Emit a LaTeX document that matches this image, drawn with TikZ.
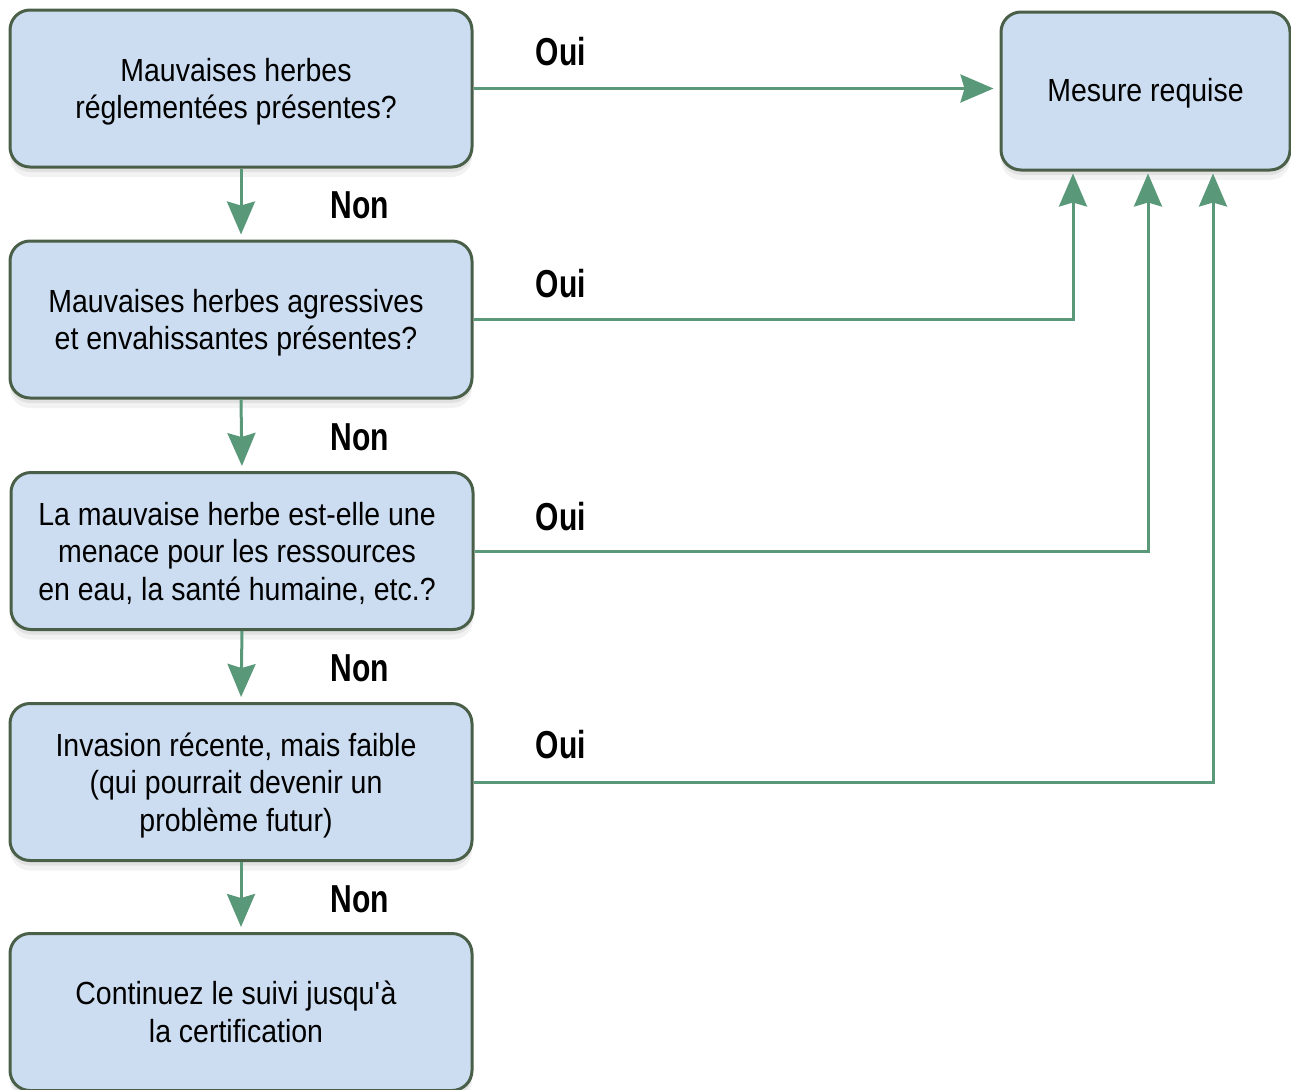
\documentclass[tikz,border=0pt]{standalone}
\usepackage{fontspec}
\setmainfont{Liberation Sans}[FakeStretch=0.89]
\newfontfamily\lblfont{Liberation Sans}[FakeStretch=0.77]
\usetikzlibrary{arrows.meta,shadows}
\definecolor{boxfill}{RGB}{204,221,241}
\definecolor{boxline}{RGB}{74,95,72}
\definecolor{arrcol}{RGB}{90,152,122}
\newcommand{\btext}[1]{\raisebox{-4pt}[\height][\depth]{\begin{tabular}{@{}c@{}}#1\end{tabular}}\hspace*{10pt}}
\tikzset{
  box/.style={draw=boxline, line width=3pt, fill=boxfill, rounded corners=20pt,
    minimum width=462pt, minimum height=157pt, align=center, inner sep=0pt,
    font=\fontsize{32}{37.5}\selectfont,
    drop shadow={shadow xshift=0pt, shadow yshift=-5pt, opacity=0.07, fill=black},
    drop shadow={shadow xshift=0pt, shadow yshift=-10pt, opacity=0.05, fill=black}},
  arr/.style={draw=arrcol, line width=3pt,
    -{Stealth[length=33pt,width=28pt,inset=4pt,fill=arrcol]}},
  lbl/.style={font=\lblfont\bfseries\fontsize{39}{44}\selectfont, inner sep=0pt}
}
\begin{document}
\begin{tikzpicture}[x=1pt,y=-1pt]
\useasboundingbox (0,0) rectangle (1291,1090);
\node[box] (b1) at (241,88.5) {\btext{Mauvaises herbes\\réglementées présentes?}};
\node[box] (b2) at (241,319.5) {\btext{Mauvaises herbes agressives\\et envahissantes présentes?}};
\node[box] (b3) at (242,551) {\btext{La mauvaise herbe est-elle une\\menace pour les ressources\\en eau, la santé humaine, etc.?}};
\node[box] (b4) at (241,782) {\btext{Invasion récente, mais faible\\(qui pourrait devenir un\\problème futur)}};
\node[box] (b5) at (241,1012) {\btext{Continuez le suivi jusqu\textquotesingle à\\la certification}};
\node[box, minimum width=289pt, minimum height=158pt] (m) at (1145.5,91) {\raisebox{-2pt}[\height][\depth]{Mesure requise}};

\draw[arr, shorten >=5pt] (b1.south) -- (b2.north);
\draw[arr, shorten >=5pt] (b2.south) -- (b3.north);
\draw[arr, shorten >=5pt] (b3.south) -- (b4.north);
\draw[arr, shorten >=5pt] (b4.south) -- (b5.north);

\draw[arr, shorten >=6pt] (b1.east) -- (b1.east -| m.west);
\draw[arr, shorten >=2pt] (b2.east) -| ([xshift=-72.5pt]m.south);
\draw[arr, shorten >=2pt] (b3.east) -| ([xshift=2.5pt]m.south);
\draw[arr, shorten >=2pt] (b4.east) -| ([xshift=67.5pt]m.south);

\node[lbl] (n1) at (360,205) {Non};
\node[lbl] (n2) at (360,437) {Non};
\node[lbl] (n3) at (360,668) {Non};
\node[lbl] (n4) at (360,899) {Non};
\node[lbl] (o1) at (561,52) {Oui};
\node[lbl] (o2) at (561,284) {Oui};
\node[lbl] (o3) at (561,517) {Oui};
\node[lbl] (o4) at (561,745) {Oui};
\end{tikzpicture}
\end{document}
